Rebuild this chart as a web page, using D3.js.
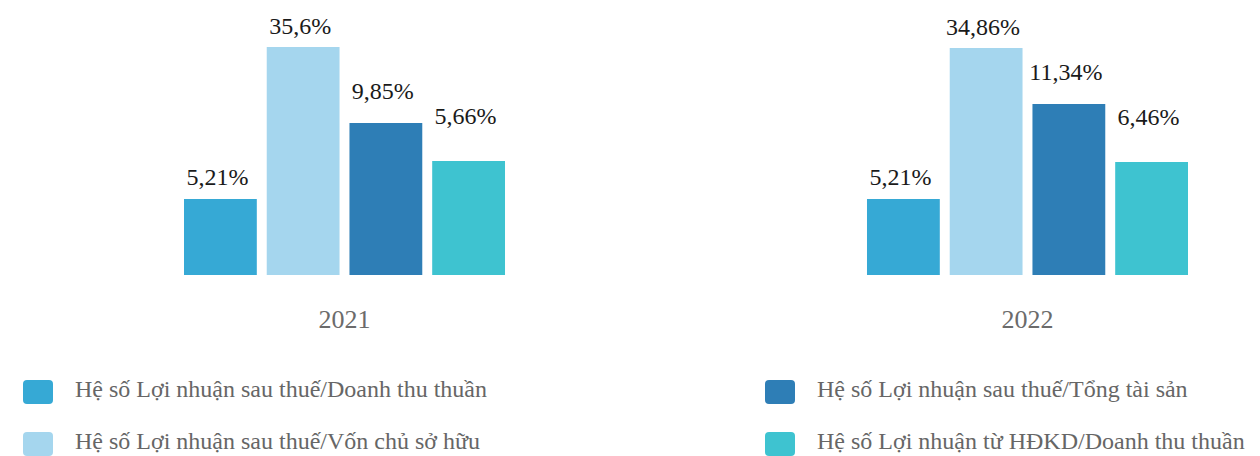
<!DOCTYPE html>
<html>
<head>
<meta charset="utf-8">
<script src="https://cdn.jsdelivr.net/npm/d3@7"></script>
<style>
  body { margin: 0; background: #fff; }
  text { font-family: "Liberation Serif", "DejaVu Serif", serif; }
</style>
</head>
<body>
<div id="chart"></div>
<script>
// data
var years = ["2021", "2022"];
var seriesNames = [
    "Hệ số Lợi nhuận sau thuế/Doanh thu thuần",
    "Hệ số Lợi nhuận sau thuế/Vốn chủ sở hữu",
    "Hệ số Lợi nhuận sau thuế/Tổng tài sản",
    "Hệ số Lợi nhuận từ HĐKD/Doanh thu thuần"
];
var values2021 = [5.21, 35.6, 9.85, 5.66];
var values2022 = [5.21, 34.86, 11.34, 6.46];
var valueLabels2021 = ["5,21%", "35,6%", "9,85%", "5,66%"];
var valueLabels2022 = ["5,21%", "34,86%", "11,34%", "6,46%"];

var colors = ["#36a9d5", "#a5d6ee", "#2e7eb6", "#3ec3d0"];

var svgWidth = 1260;
var svgHeight = 456;

var svg = d3.select("#chart")
    .append("svg")
    .attr("width", svgWidth)
    .attr("height", svgHeight);

var rows = [
    { year: years[0], values: values2021, labels: valueLabels2021 },
    { year: years[1], values: values2022, labels: valueLabels2022 }
];

// group scale and inner bar scale
var x0 = d3.scaleBand()
    .domain(years)
    .range([184, 1188])
    .paddingInner(0.53);

var x1 = d3.scaleBand()
    .domain(d3.range(seriesNames.length))
    .range([0, x0.bandwidth()])
    .paddingInner(0.12);

// bar heights in the source are decorative, not proportional -> piecewise scale
var baseY = 275;
var yScale = d3.scaleLinear()
    .domain([0, 5.21, 5.66, 6.46, 9.85, 11.34, 34.86, 35.6])
    .range([baseY, 199, 161, 162, 123, 104, 48, 47]);

// per-series gap between bar top and its label
var labelGap = [14, 13, 24, 37];

var groups = svg.selectAll(".group")
    .data(rows)
    .enter()
    .append("g")
    .attr("class", "group")
    .attr("transform", d => `translate(${x0(d.year)}, 0)`);

groups.selectAll("rect")
    .data(d => d.values)
    .enter()
    .append("rect")
    .attr("x", (d, i) => x1(i))
    .attr("y", d => yScale(d))
    .attr("width", x1.bandwidth())
    .attr("height", d => baseY - yScale(d))
    .attr("fill", (d, i) => colors[i]);

groups.selectAll(".val")
    .data(d => d.values.map((v, i) => ({ v: v, label: d.labels[i] })))
    .enter()
    .append("text")
    .attr("class", "val")
    .attr("x", (d, i) => x1(i) + x1.bandwidth() / 2 - 3)
    .attr("y", (d, i) => yScale(d.v) - labelGap[i])
    .attr("text-anchor", "middle")
    .attr("font-size", "24px")
    .attr("fill", "#1a1a1a")
    .text(d => d.label);

groups.append("text")
    .attr("x", x0.bandwidth() / 2)
    .attr("y", 328)
    .attr("text-anchor", "middle")
    .attr("font-size", "26px")
    .attr("fill", "#6b6b6b")
    .text(d => d.year);

// legend
var legendX = d3.scalePoint().domain([0, 1]).range([23, 765]);
var legendY = d3.scalePoint().domain([0, 1]).range([380, 432]);

var legend = svg.selectAll(".legend")
    .data(seriesNames)
    .enter()
    .append("g")
    .attr("class", "legend")
    .attr("transform", (d, i) => `translate(${legendX(i < 2 ? 0 : 1)}, ${legendY(i % 2)})`);

legend.append("rect")
    .attr("width", 30)
    .attr("height", 24)
    .attr("rx", 4)
    .attr("fill", (d, i) => colors[i]);

legend.append("text")
    .attr("x", 52)
    .attr("y", 17)
    .attr("font-size", "24px")
    .attr("fill", "#666")
    .text(d => d);
</script>
</body>
</html>
